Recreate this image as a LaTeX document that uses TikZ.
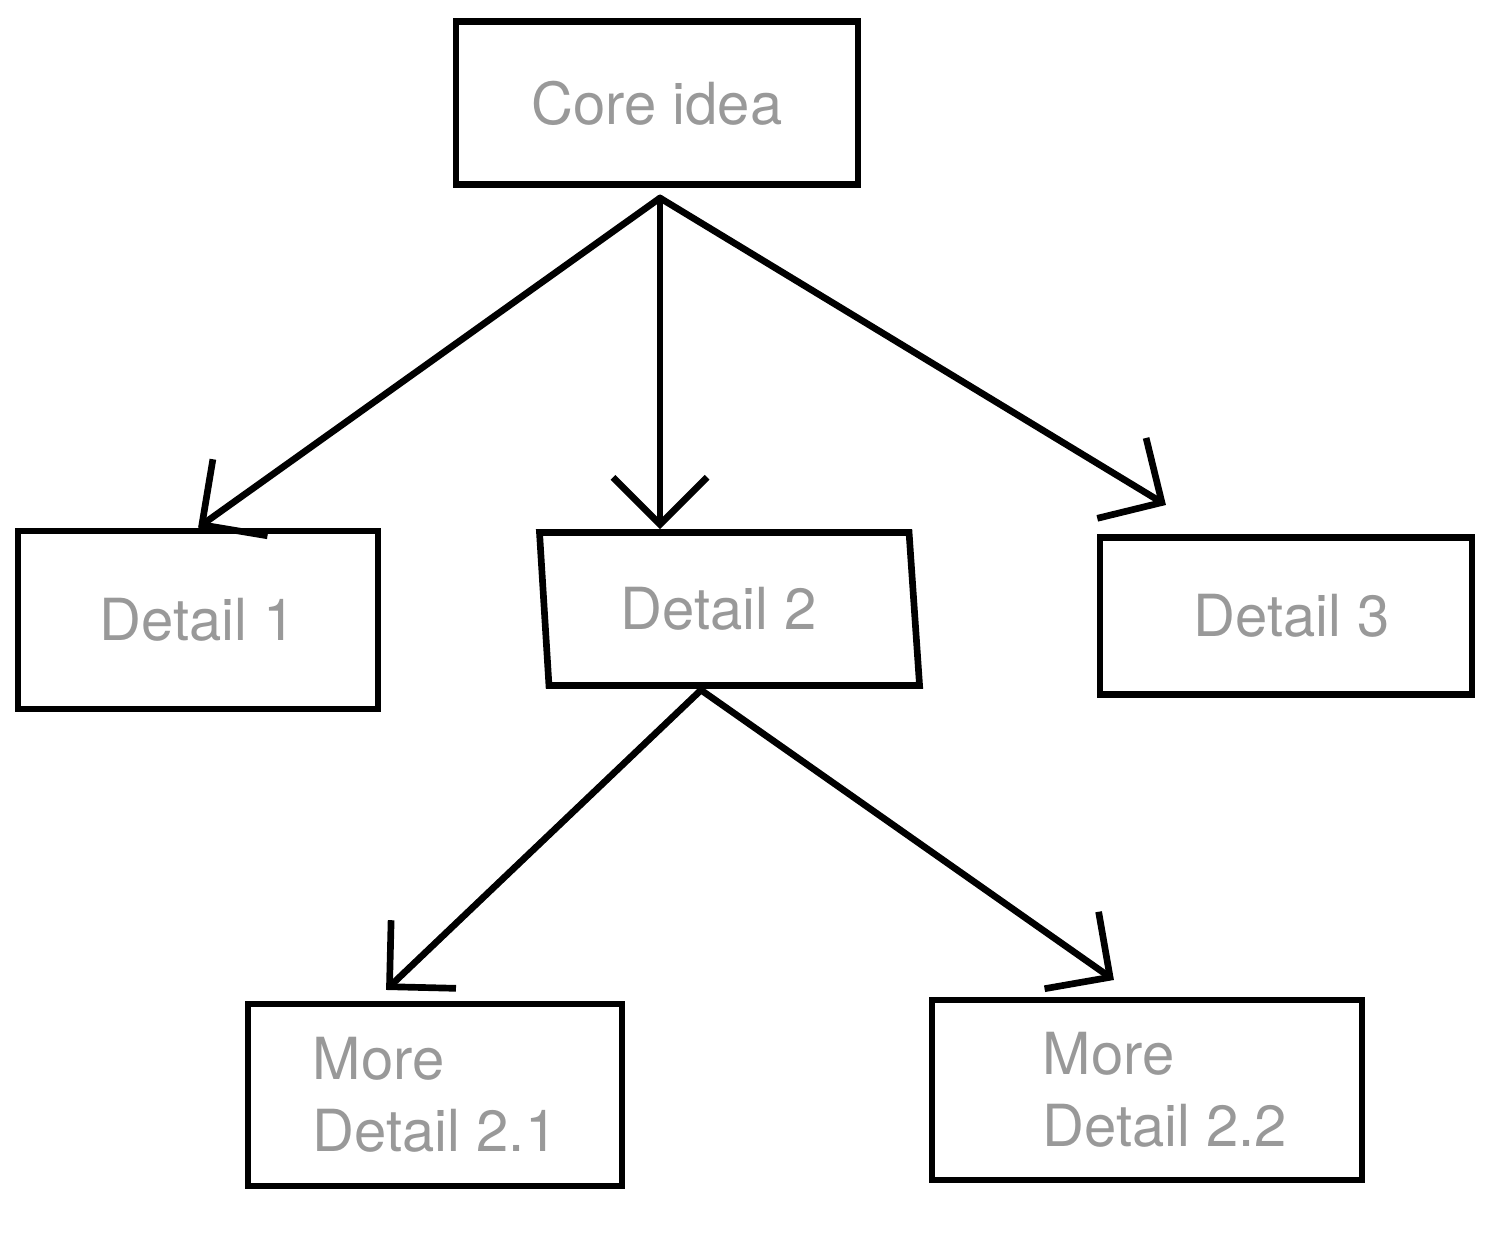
\documentclass[tikz,border=0pt]{standalone}
\usepackage{fontspec}
\setmainfont{TeX Gyre Heros}
\usetikzlibrary{shapes.geometric,arrows.meta}
\definecolor{labelgray}{HTML}{999999}

\begin{document}
\begin{tikzpicture}[x=0.01cm, y=-0.01cm,
   box/.style={draw, line width=1.9pt, text=labelgray,
      font=\fontsize{16.5}{20.5}\selectfont},
   link/.style={line width=1.9pt, line cap=round,
      -{Straight Barb[length=4.7mm, width=9.4mm, line width=1.9pt]}}]
   \useasboundingbox (0,0) rectangle (1504,1232);

   % Core idea
   \node[box, minimum width=4.02cm, minimum height=1.63cm] (core) at (657,103) {Core idea};

   % First level
   \node[box, minimum width=3.6cm, minimum height=1.78cm] (d1) at (198,620) {Detail 1};
   \node[box, shape=trapezium, trapezium left angle=94.5, trapezium right angle=85,
      trapezium stretches=true, minimum width=3.82cm, minimum height=1.53cm] (d2) at (729,609) {\hspace*{-0.2cm}Detail 2};
   \node[box, minimum width=3.72cm, minimum height=1.57cm] (d3) at (1286,616) {\hspace*{0.12cm}Detail 3};

   % Second level
   \node[box, align=left, minimum width=3.74cm, minimum height=1.82cm] (m21) at (435,1095) {More\\Detail 2.1};
   \node[box, align=left, minimum width=4.3cm, minimum height=1.8cm] (m22) at (1147,1090)
      {\hspace*{0.36cm}More\\\hspace*{0.36cm}Detail 2.2};

   % Arrows
   \coordinate (hub) at (660,198);
   \coordinate (tip3) at (1166,505);
   \coordinate (fork) at (701,690);
   \coordinate (tip21) at (386,990);
   \coordinate (tip22) at (1114,980);

   \draw[link] (hub) -- (d1.north);
   \draw[link] (hub) -- (hub |- d2.north);
   \draw[link] (hub) -- (tip3);
   \draw[link] (fork) -- (tip21);
   \draw[link] (fork) -- (tip22);

\end{tikzpicture}
\end{document}
